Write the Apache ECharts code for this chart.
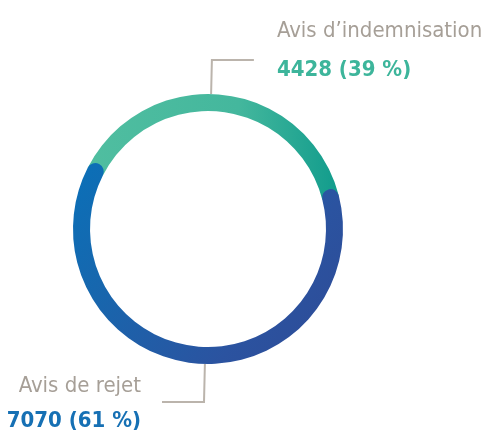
<!DOCTYPE html>
<html><head><meta charset="utf-8">
<script src="https://cdn.jsdelivr.net/npm/echarts@6/dist/echarts.min.js"></script>
<style>html,body{margin:0;padding:0;background:#fff}#c{width:488px;height:434px}</style>
</head><body><div id="c"></div>
<script>
const categories = ['Avis d\u2019indemnisation', 'Avis de rejet'];
const values = [4428, 7070];
const percents = [39, 61];

const total = values.reduce((a, b) => a + b, 0);
const FONT = '"Liberation Sans Narrow", "DejaVu Sans Condensed", sans-serif';
const valueColors = ['#3db59b', '#1670b4'];

const tealGrad = new echarts.graphic.LinearGradient(0, 0, 1, 0, [
  { offset: 0, color: '#50bea0' },
  { offset: 0.6, color: '#44b79d' },
  { offset: 1, color: '#119c8c' }
]);
const blueGrad = new echarts.graphic.LinearGradient(0, 0, 1, 1, [
  { offset: 0, color: '#0a70b8' },
  { offset: 0.3, color: '#1866ad' },
  { offset: 0.7, color: '#2b53a0' },
  { offset: 1, color: '#2e4a95' }
]);

const center = [208, 229];
const labelCfg = [
  { length: 34, padding: [0, 0, 19, 0], lh: 39, width: 205, dist: 23 },
  { length: 38, padding: [4, 0, 0, 0], lh: 35, width: 150, dist: 21 }
];

const chart = echarts.init(document.getElementById('c'), null, { renderer: 'canvas' });
chart.setOption({
  animation: false,
  polar: { center: center, radius: [118, 135] },
  angleAxis: { type: 'value', min: 0, max: total, startAngle: 153, clockwise: true, show: false },
  radiusAxis: { type: 'category', data: [''], show: false },
  series: [
    {
      type: 'bar', coordinateSystem: 'polar', stack: 'ring', barWidth: '100%',
      data: [values[0]], itemStyle: { color: tealGrad }, silent: true
    },
    {
      type: 'bar', coordinateSystem: 'polar', stack: 'ring', barWidth: '100%', roundCap: true,
      data: [values[1]], itemStyle: { color: blueGrad }, silent: true
    },
    {
      type: 'pie', center: center, radius: [118, 135], startAngle: 158, clockwise: true,
      avoidLabelOverlap: false, silent: true,
      itemStyle: { color: 'transparent' },
      emphasis: { disabled: true },
      labelLine: { show: true, length2: 42, lineStyle: { color: '#bbb4ac', width: 2 } },
      data: categories.map((name, i) => ({
        name: name,
        value: values[i],
        labelLine: { length: labelCfg[i].length },
        label: {
          show: true,
          distanceToLabelLine: labelCfg[i].dist,
          width: labelCfg[i].width,
          overflow: 'none',
          padding: labelCfg[i].padding,
          formatter: '{n|' + name + '}\n{v' + i + '|' + values[i] + ' (' + percents[i] + '\u00a0%)}',
          rich: {
            n: { fontFamily: FONT, fontSize: 22, color: '#a69f97', lineHeight: labelCfg[i].lh },
            ['v' + i]: { fontFamily: FONT, fontSize: 22, fontWeight: 'bold', color: valueColors[i], lineHeight: labelCfg[i].lh }
          }
        }
      }))
    }
  ]
});
</script></body></html>
